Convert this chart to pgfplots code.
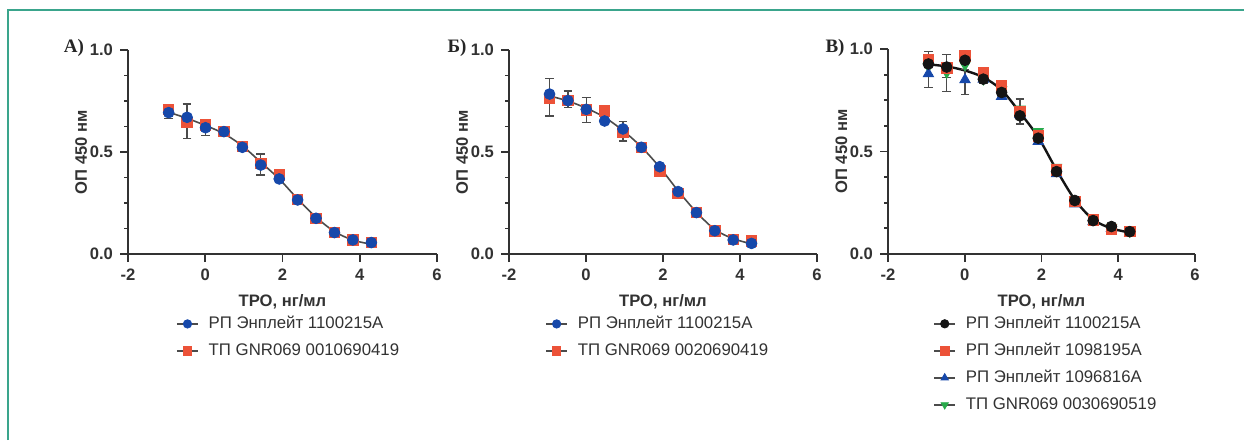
\documentclass[border=0pt]{standalone}
\usepackage{fontspec}
\setmainfont{Liberation Sans}
\newfontfamily\panelfont{Liberation Serif}
\usepackage{pgfplots}
\pgfplotsset{compat=1.18}

\definecolor{cblue}{RGB}{22,72,170}
\definecolor{cred}{RGB}{236,82,56}
\definecolor{cgreen}{RGB}{40,170,75}
\definecolor{cblack}{RGB}{20,20,20}
\definecolor{fitgray}{RGB}{75,75,75}
\definecolor{axgray}{RGB}{50,50,50}
\definecolor{framecol}{RGB}{58,165,140}

\pgfplotsset{
  panel/.style={
    scale only axis, height=102pt,
    xmin=-2, xmax=6, ymin=0, ymax=1,
    axis lines=left, axis line style={-, axgray, line width=1pt},
    xtick={-2,0,2,4,6}, xticklabels={-2,0,2,4,6},
    ytick={0,0.5,1}, yticklabels={0.0,0.5,1.0},
    minor y tick num=3,
    tick align=outside, tick style={axgray, line width=0.9pt},
    major tick length=4pt, minor tick length=2pt,
    tick label style={font=\bfseries\fontsize{8.3}{9}\selectfont, text=axgray},
    label style={font=\bfseries\fontsize{8.3}{9}\selectfont, text=axgray},
    xlabel={ТРО, нг/мл}, ylabel={ОП 450 нм},
    xlabel style={at={(axis description cs:0.5,-0.235)}, anchor=center},
    ylabel style={at={(axis description cs:-0.152,0.5)}, anchor=center},
    clip=false,
    legend cell align=left,
    legend style={draw=none, fill=none, inner sep=0pt, row sep=6pt, column sep=5pt,
      nodes={inner sep=0pt, text height=6pt, text depth=1.5pt,
        font=\fontsize{8.4}{9}\selectfont, text=axgray},
      anchor=north west},
    legend image code/.code={
      \draw[fitgray, line width=0.7pt] (0pt,0pt) -- (10.5pt,0pt);
      \draw[##1, mark size=2.1pt] plot coordinates {(5.25pt,0pt)};
    },
    error bars/y dir=both, error bars/y explicit,
    error bars/error bar style={fitgray, line width=0.6pt},
    error bars/error mark options={rotate=90, fitgray, mark size=2.2pt, line width=0.6pt},
  },
  fit/.style={fitgray, line width=0.8pt, smooth, no marks, forget plot},
  sblue/.style={only marks, mark=*, mark size=2.7pt, color=cblue},
  sred/.style={only marks, mark=square*, mark size=2.6pt, color=cred},
  sblack/.style={only marks, mark=*, mark size=2.7pt, color=cblack},
  stri/.style={only marks, mark=triangle*, mark size=3pt, color=cblue},
  sgreen/.style={only marks, mark=triangle*, mark size=3pt, color=cgreen, mark options={rotate=180}},
}

\begin{document}
\begin{tikzpicture}
\path[use as bounding box] (0pt,0pt) rectangle (622pt,220pt);
\draw[framecol, line width=1pt] (4pt,0pt) -- (4pt,215pt) -- (622pt,215pt);

\node[font=\panelfont\bfseries\fontsize{9.5}{10}\selectfont, text=black!85] at (37pt,196pt) {А)};
\node[font=\panelfont\bfseries\fontsize{9.5}{10}\selectfont, text=black!85] at (228.5pt,196pt) {Б)};
\node[font=\panelfont\bfseries\fontsize{9.5}{10}\selectfont, text=black!85] at (417.5pt,196pt) {В)};

% A
\begin{axis}[panel, width=154.5pt, at={(64pt,93pt)}, anchor=south west,
  legend style={at={(axis description cs:0.155,-0.304)}}]
\addlegendimage{sblue}
\addlegendentry{РП Энплейт 1100215A}
\addlegendimage{sred}
\addlegendentry{ТП GNR069 0010690419}
\addplot[fit] coordinates {
  (-0.947,0.695) (-0.470,0.665) (0.007,0.630) (0.484,0.590) (0.961,0.530)
  (1.438,0.450) (1.915,0.368) (2.392,0.270) (2.869,0.180) (3.346,0.110)
  (3.823,0.068) (4.300,0.048)};
\addplot[sred, forget plot] coordinates {
  (-0.947,0.709)
  (-0.470,0.644) += (0,0.091) -= (0,0.077)
  (0.007,0.632) (0.484,0.600) (0.961,0.526) (1.438,0.444) (1.915,0.387)
  (2.392,0.268) (2.869,0.175) (3.346,0.106) (3.823,0.069) (4.300,0.056)};
\addplot[sblue, forget plot] coordinates {
  (-0.947,0.693) +- (0,0.030)
  (-0.470,0.670)
  (0.007,0.619) +- (0,0.037)
  (0.484,0.600) +- (0,0.023)
  (0.961,0.523)
  (1.438,0.436) += (0,0.054) -= (0,0.049)
  (1.915,0.368) +- (0,0.015)
  (2.392,0.265) (2.869,0.175) (3.346,0.105) (3.823,0.069) (4.300,0.056)};
\end{axis}

% B
\begin{axis}[panel, width=154pt, at={(254.5pt,93pt)}, anchor=south west,
  legend style={at={(axis description cs:0.117,-0.304)}}]
\addlegendimage{sblue}
\addlegendentry{РП Энплейт 1100215A}
\addlegendimage{sred}
\addlegendentry{ТП GNR069 0020690419}
\addplot[fit] coordinates {
  (-0.947,0.775) (-0.470,0.750) (0.007,0.715) (0.484,0.670) (0.961,0.605)
  (1.438,0.525) (1.915,0.425) (2.392,0.310) (2.869,0.205) (3.346,0.120)
  (3.823,0.075) (4.300,0.050)};
\addplot[sred, forget plot] coordinates {
  (-0.947,0.763) += (0,0.098) -= (0,0.087)
  (-0.470,0.752) (0.007,0.706) (0.484,0.701)
  (0.961,0.595) += (0,0.054) -= (0,0.041)
  (1.438,0.523) (1.915,0.408) (2.392,0.297) (2.869,0.203) (3.346,0.114)
  (3.823,0.072) (4.300,0.064)};
\addplot[sblue, forget plot] coordinates {
  (-0.947,0.784)
  (-0.470,0.752) += (0,0.047) -= (0,0.035)
  (0.007,0.709) += (0,0.057) -= (0,0.065)
  (0.484,0.652) (0.961,0.613) (1.438,0.523) (1.915,0.428) (2.392,0.306)
  (2.869,0.203) (3.346,0.114) (3.823,0.069) (4.300,0.052)};
\end{axis}

% C
\begin{axis}[panel, width=153.5pt, height=102.5pt, at={(444pt,93pt)}, anchor=south west,
  legend style={at={(axis description cs:0.147,-0.302)}}]
\addlegendimage{sblack}
\addlegendentry{РП Энплейт 1100215A}
\addlegendimage{sred}
\addlegendentry{РП Энплейт 1098195A}
\addlegendimage{stri}
\addlegendentry{РП Энплейт 1096816A}
\addlegendimage{sgreen}
\addlegendentry{ТП GNR069 0030690519}
\addplot[fit, cblack, line width=1.2pt] coordinates {
  (-0.947,0.925) (-0.470,0.915) (0.007,0.895) (0.484,0.862) (0.961,0.800)
  (1.438,0.690) (1.915,0.570) (2.392,0.410) (2.869,0.265) (3.346,0.168)
  (3.823,0.125) (4.300,0.105)};
\addplot[sgreen, forget plot] coordinates {
  (-0.947,0.915)
  (-0.470,0.886) += (0,0.03) -= (0,0.093)
  (0.007,0.923) (0.484,0.853) (0.961,0.801) (1.438,0.707) (1.915,0.598)
  (2.392,0.423) (2.869,0.264) (3.346,0.174) (3.823,0.130) (4.300,0.111)};
\addplot[stri, forget plot] coordinates {
  (-0.947,0.879) += (0,0.04) -= (0,0.065)
  (-0.470,0.907)
  (0.007,0.850) += (0,0.05) -= (0,0.073)
  (0.484,0.853) (0.961,0.769) (1.438,0.680) (1.915,0.549) (2.392,0.391)
  (2.869,0.244) (3.346,0.158) (3.823,0.125) (4.300,0.101)};
\addplot[sred, forget plot] coordinates {
  (-0.947,0.948) (-0.470,0.907)
  (0.007,0.967) +- (0,0.022)
  (0.484,0.883) (0.961,0.821) (1.438,0.695) (1.915,0.577) (2.392,0.410)
  (2.869,0.256) (3.346,0.166) (3.823,0.121) (4.300,0.109)};
\addplot[sblack, forget plot] coordinates {
  (-0.947,0.927) += (0,0.062) -= (0,0.05)
  (-0.470,0.912) += (0,0.06) -= (0,0.05)
  (0.007,0.945)
  (0.484,0.853) +- (0,0.02)
  (0.961,0.788)
  (1.438,0.674) += (0,0.082) -= (0,0.04)
  (1.915,0.565) (2.392,0.402) (2.869,0.261) (3.346,0.163) (3.823,0.134)
  (4.300,0.109)};
\end{axis}
\end{tikzpicture}
\end{document}
